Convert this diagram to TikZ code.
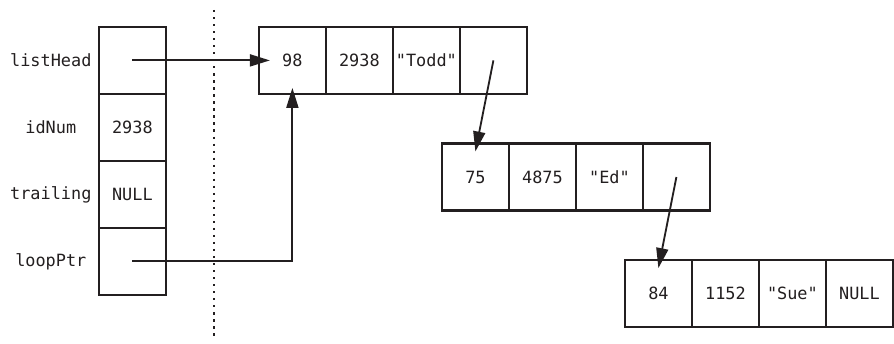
\documentclass[tikz,border=0pt]{standalone}
\usepackage{fontspec}
\setmonofont{DejaVu Sans Mono}
\usepackage{tikz}
\usetikzlibrary{positioning,arrows.meta}
\definecolor{llInk}{HTML}{231F20}
\tikzset{
  ll-cell/.style={
    draw=llInk, line width=1.6pt, rectangle,
    minimum size=16.75mm, inner sep=0pt, outer sep=0pt,
    font=\ttfamily\fontsize{12}{14}\selectfont, text=llInk
  },
  ll-label/.style={font=\ttfamily\fontsize{12}{14}\selectfont, text=llInk},
  ll-ptr/.style={-{Triangle[length=5mm,width=3mm]}, line width=1.3pt,
    draw=llInk},
  ll-sep/.style={draw=llInk, line width=1.6pt,
    dash pattern=on 1.6pt off 3.4pt}
}

\begin{document}
\begin{tikzpicture}
\useasboundingbox (0,0) rectangle (22.35,-8.575);
% stack variables
\node[ll-cell] (pHead) at (3.31,-1.51) {};
\node[ll-cell, below=0pt of pHead] (pId) {2938};
\node[ll-cell, below=0pt of pId] (pTrail) {NULL};
\node[ll-cell, below=0pt of pTrail] (pLoop) {};
\node[ll-label] (lHead) at ([xshift=-20.4mm]pHead.center) {listHead};
\node[ll-label] (lId) at ([xshift=-20.4mm]pId.center) {idNum};
\node[ll-label] (lTrail) at ([xshift=-20.4mm]pTrail.center) {trailing};
\node[ll-label] (lLoop) at ([xshift=-20.4mm]pLoop.center) {loopPtr};

% stack / heap boundary
\coordinate (sepTop) at (5.35,-0.25);
\coordinate (sepBot) at (5.35,-8.5);
\draw[ll-sep] (sepTop) -- (sepBot);

% list nodes
\node[ll-cell] (toddA) at (7.31,-1.51) {98};
\node[ll-cell, right=0pt of toddA] (toddB) {2938};
\node[ll-cell, right=0pt of toddB] (toddC) {"Todd"};
\node[ll-cell, right=0pt of toddC] (toddD) {};

\node[ll-cell, below right=12.4mm and 29mm of toddA] (edA) {75};
\node[ll-cell, right=0pt of edA] (edB) {4875};
\node[ll-cell, right=0pt of edB] (edC) {"Ed"};
\node[ll-cell, right=0pt of edC] (edD) {};

\node[ll-cell, below right=12.4mm and 29mm of edA] (sueA) {84};
\node[ll-cell, right=0pt of sueA] (sueB) {1152};
\node[ll-cell, right=0pt of sueB] (sueC) {"Sue"};
\node[ll-cell, right=0pt of sueC] (sueD) {NULL};

\draw[ll-ptr] (pHead.center) -- ([xshift=2.75mm]toddA.west);
\draw[ll-ptr] (pLoop.center) -| ([yshift=1.5mm]toddA.south);
\draw[ll-ptr] (toddD.center) -- ([yshift=-2mm]edA.north);
\draw[ll-ptr] (edD.center) -- ([yshift=-2mm]sueA.north);
\end{tikzpicture}
\end{document}
